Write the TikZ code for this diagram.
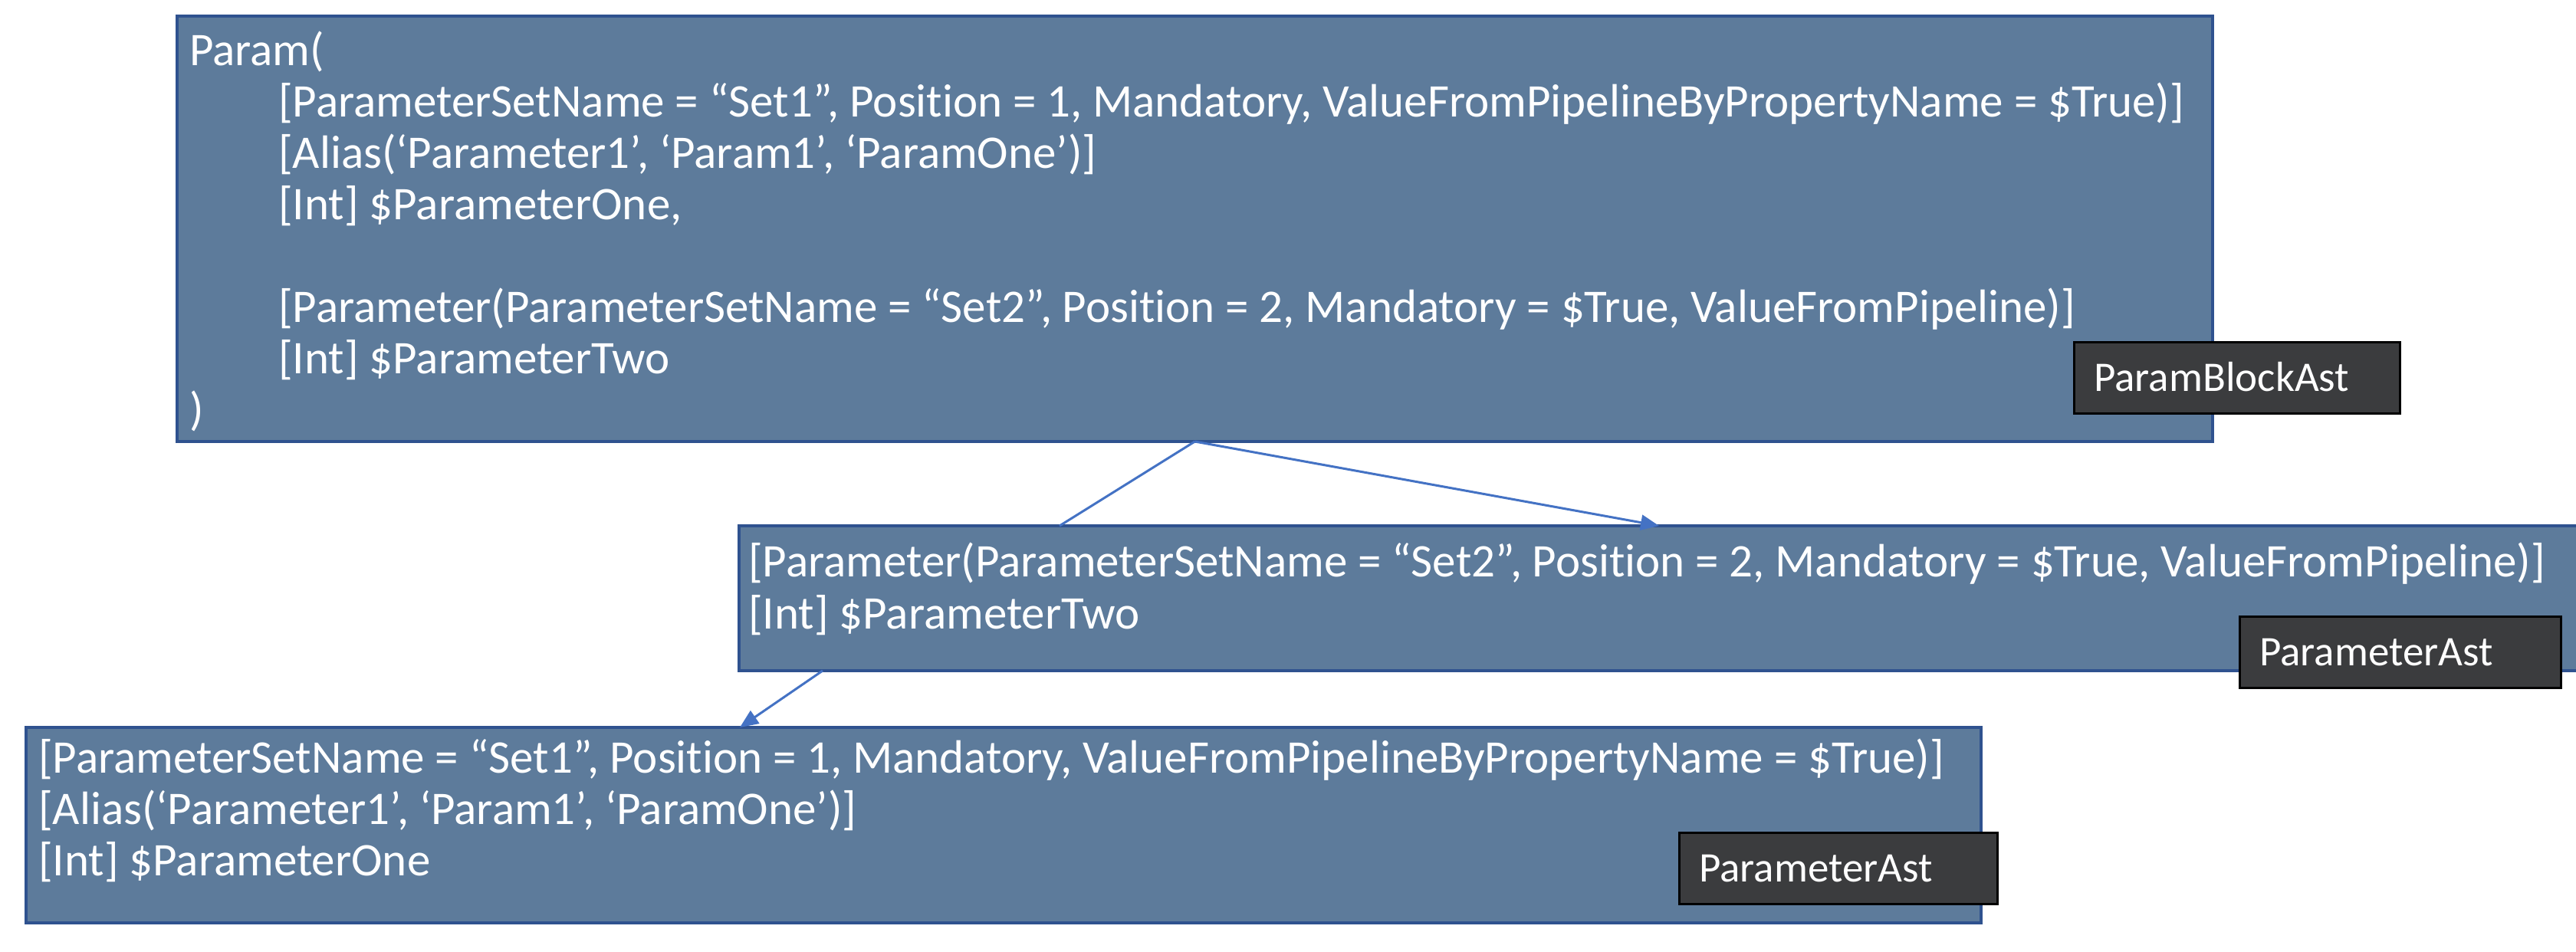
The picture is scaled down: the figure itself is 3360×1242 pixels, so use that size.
\documentclass[tikz,border=0pt]{standalone}
\usepackage{fontspec}
\setmainfont{Carlito}[Ligatures={NoCommon}]
\usetikzlibrary{arrows.meta,calc}
\definecolor{boxfill}{RGB}{93,123,155}
\definecolor{boxedge}{RGB}{47,82,143}
\definecolor{lblfill}{RGB}{59,60,62}
\definecolor{connc}{RGB}{68,114,196}
\tikzset{
  blk/.style={draw=boxedge, fill=boxfill, line width=4pt, rectangle, inner sep=0pt, outer sep=0pt, anchor=north west},
  lbl/.style={draw=black, fill=lblfill, line width=3pt, rectangle, inner sep=0pt, outer sep=0pt, anchor=north west, minimum height=93pt},
  codetxt/.style={text=white, inner sep=0pt, anchor=base west, font=\fontsize{61}{67}\selectfont},
  lbltxt/.style={text=white, inner sep=0pt, anchor=base west, font=\fontsize{55}{60}\selectfont},
  conn/.style={draw=connc, line width=3pt},
  tip/.style={-{Triangle[length=24pt,width=20pt]}}
}
\begin{document}
\begin{tikzpicture}[x=1pt,y=-1pt]
\useasboundingbox (0,0) rectangle (3360,1242);
\fill[white] (0,0) rectangle (3360,1242);
% boxes
\node[blk, minimum width=2655pt, minimum height=555pt] (main) at (231,21) {};
\node[blk, minimum width=2420pt, minimum height=189pt] (p2) at (964,686) {};
\node[blk, minimum width=2550pt, minimum height=255pt] (p3) at (34,949) {};
% main text
\node[codetxt] (m1) at (247,85) {Param(};
\node[codetxt] (m2) at (363,152) {[ParameterSetName = “Set1”, Position = 1, Mandatory, ValueFromPipelineByPropertyName = \$True)]};
\node[codetxt] (m3) at (363,219) {[Alias(‘Parameter1’, ‘Param1’, ‘ParamOne’)]};
\node[codetxt] (m4) at (363,286) {[Int] \$ParameterOne,};
\node[codetxt] (m5) at (363,420) {[Parameter(ParameterSetName = “Set2”, Position = 2, Mandatory = \$True, ValueFromPipeline)]};
\node[codetxt] (m6) at (363,487) {[Int] \$ParameterTwo};
\node[codetxt] (m7) at (247,554) {)};
% second box text
\node[codetxt] (s1) at (976,752) {[Parameter(ParameterSetName = “Set2”, Position = 2, Mandatory = \$True, ValueFromPipeline)]};
\node[codetxt] (s2) at (976,820) {[Int] \$ParameterTwo};
% third box text
\node[codetxt] (t1) at (50,1008) {[ParameterSetName = “Set1”, Position = 1, Mandatory, ValueFromPipelineByPropertyName = \$True)]};
\node[codetxt] (t2) at (50,1075) {[Alias(‘Parameter1’, ‘Param1’, ‘ParamOne’)]};
\node[codetxt] (t3) at (50,1142) {[Int] \$ParameterOne};
% labels
\node[lbl, minimum width=425pt] (la) at (2705,446) {};
\node[lbltxt] (lat) at (2731,510) {ParamBlockAst};
\node[lbl, minimum width=419pt] (lb) at (2921,804) {};
\node[lbltxt] (lbt) at (2947,868) {ParameterAst};
\node[lbl, minimum width=415pt] (lc) at (2190,1086) {};
\node[lbltxt] (lct) at (2216,1150) {ParameterAst};
% connectors
\draw[conn] (main.south) -- ($(p2.north west)+(418,0)$);
\draw[conn,tip] (main.south) -- ($(p2.north west)+(1200,0)$);
\draw[conn,tip] ($(p2.south west)+(109,0)$) -- ($(p3.north west)+(931,0)$);
\end{tikzpicture}
\end{document}
